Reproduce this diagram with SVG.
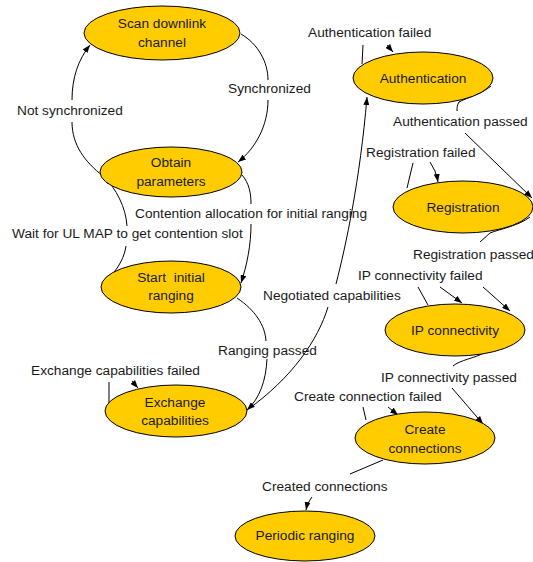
<svg xmlns="http://www.w3.org/2000/svg" width="533" height="562" viewBox="0 0 533 562">
<style>
.st ellipse{fill:#FFCC00;stroke:#000;stroke-width:1}
text{font-family:"Liberation Sans",Arial,sans-serif;font-size:13.7px;fill:#1a1a1a}
.st text{text-anchor:middle}
.cn path{fill:none;stroke:#000;stroke-width:1;marker-end:url(#ah)}
.cn path.nm{marker-end:none}
</style>
<defs>
<marker id="ah" markerUnits="userSpaceOnUse" markerWidth="8" markerHeight="6" refX="8" refY="3" orient="auto">
<path d="M0,0 L8,3 L0,6 z" fill="#000"/>
</marker>
</defs>
<rect width="533" height="562" fill="#fff"/>
<g id="connectors" class="cn">
<path id="c-sync" d="M241,34 C258,44 268,62 268,80 M268,100 C268,125 256,148 238,162"/>
<path id="c-notsync" d="M103,176 C85,162 72,145 72,122 M72,100 C72,78 78,60 90,45"/>
<path id="c-wait" d="M103,284 C112,276 124,262 126,246 M127,226 C126,208 116,188 104,177"/>
<path id="c-contention" d="M242,175 C249,183 251,193 251,204 M251,224 C251,245 247,265 241,283"/>
<path id="c-ranging" d="M237,298 C255,310 265,325 266,341 M267,359 C266,380 260,398 247,410"/>
<path id="c-negotiated" d="M247,410 C292,378 318,340 328,307 M336,284 C346,245 360,180 367,97"/>
<path id="c-exfail" d="M109,403 L109,382 M132,381 L138,388"/>
<path id="c-authfail" d="M362,64 L363,45 M387,45 L393,52"/>
<path id="c-authpass" d="M491,86 C480,95 466,98 459,102 C457,105 457,108 457,111 M465,133 L532,198"/>
<path id="c-regfail" d="M407,188 L413,163 M430,162 Q436,170 438,182"/>
<path id="c-regpass" d="M530,217 C518,226 500,229 490,233 L480,242 M483,287 L510,311"/>
<path id="c-ipfail" d="M428,305 L418,287 M440,287 L462,303"/>
<path id="c-ippass" d="M484,353 C475,358 460,360 453,366 M452,388 L483,424"/>
<path id="c-ccfail" d="M366,420 L363,407 M388,407 L398,415"/>
<path id="c-created" d="M383,460 L350,474 M312,497 C309,501 307,505 306,510"/>
</g>
<g id="labels">
<text x="228" y="93">Synchronized</text>
<text x="17" y="115">Not synchronized</text>
<text x="135" y="218">Contention allocation for initial ranging</text>
<text x="12" y="238">Wait for UL MAP to get contention slot</text>
<text x="218" y="355">Ranging passed</text>
<text x="31" y="375">Exchange capabilities failed</text>
<text x="263" y="300">Negotiated capabilities</text>
<text x="308" y="37">Authentication failed</text>
<text x="393" y="126">Authentication passed</text>
<text x="366" y="157">Registration failed</text>
<text x="413" y="259">Registration passed</text>
<text x="358" y="280">IP connectivity failed</text>
<text x="381" y="382">IP connectivity passed</text>
<text x="294" y="401">Create connection failed</text>
<text x="262" y="491">Created connections</text>
</g>
<g id="scan" class="st"><ellipse cx="162" cy="33" rx="78" ry="27"/><text x="162" y="28">Scan downlink</text><text x="162" y="47">channel</text></g>
<g id="obtain" class="st"><ellipse cx="171" cy="172" rx="71" ry="25"/><text x="171" y="167">Obtain</text><text x="171" y="186">parameters</text></g>
<g id="start" class="st"><ellipse cx="171" cy="287" rx="70" ry="26"/><text x="171" y="282" style="white-space:pre">Start  initial</text><text x="171" y="300">ranging</text></g>
<g id="exchange" class="st"><ellipse cx="176" cy="411" rx="71" ry="26"/><text x="175" y="407">Exchange</text><text x="175" y="425">capabilities</text></g>
<g id="authentication" class="st"><ellipse cx="423" cy="78" rx="70" ry="26"/><text x="423" y="83">Authentication</text></g>
<g id="registration" class="st"><ellipse cx="463" cy="207" rx="70" ry="26"/><text x="463" y="212">Registration</text></g>
<g id="ipconn" class="st"><ellipse cx="455" cy="330" rx="70" ry="26"/><text x="455" y="335">IP connectivity</text></g>
<g id="create" class="st"><ellipse cx="425" cy="438" rx="70" ry="26"/><text x="425" y="434">Create</text><text x="425" y="453">connections</text></g>
<g id="periodic" class="st"><ellipse cx="305" cy="536" rx="70" ry="25"/><text x="305" y="540">Periodic ranging</text></g>
</svg>
